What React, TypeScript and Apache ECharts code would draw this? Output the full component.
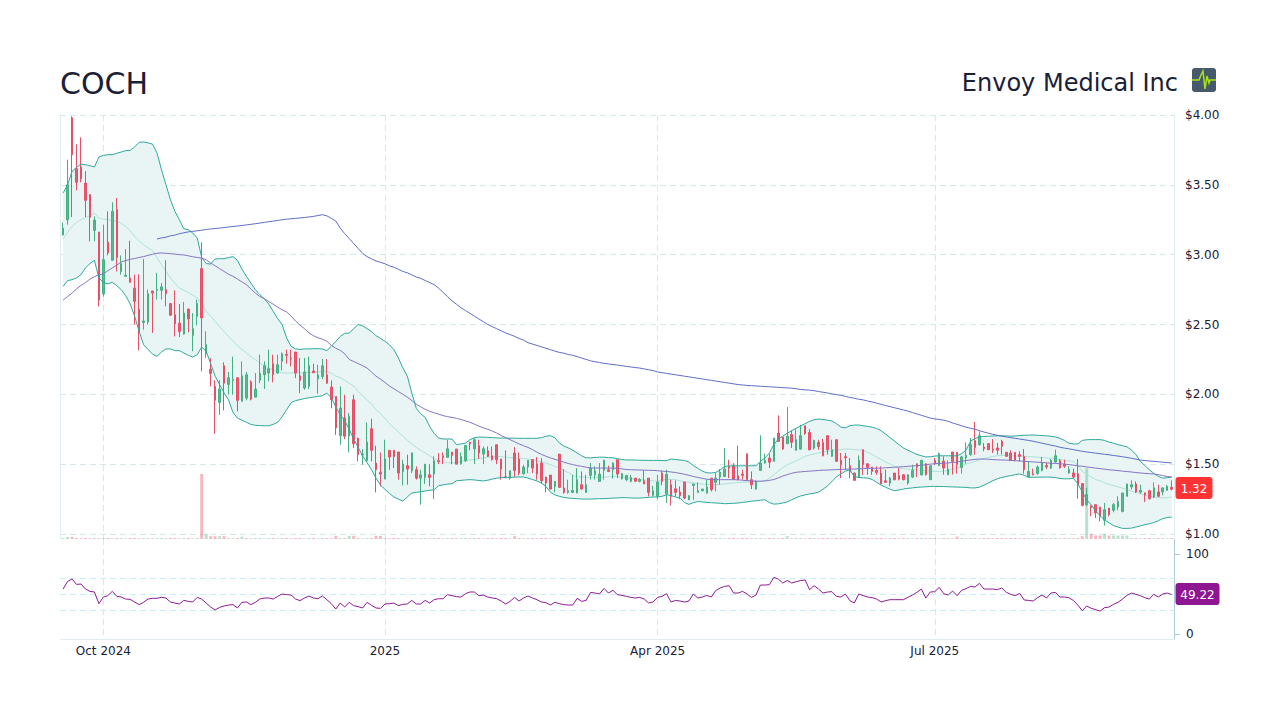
import React, { useEffect, useRef } from "react";
import * as echarts from "echarts";

const ticker = "COCH";
const company = "Envoy Medical Inc";
const lastPrice = "1.32";
const lastRsi = "49.22";
const tickLabels: Record<string, string> = { "9": "Oct 2024", "72": "2025", "133": "Apr 2025", "195": "Jul 2025" };

// open, close, low, high
const candles = [
[3.14,3.19,3.14,3.23],[3.25,3.5,3.215,3.68],[3.98,3.716,3.27,3.99],[3.616,3.518,3.46,3.79],[3.628,3.544,3.518,3.84],[3.513,3.389,3.27,3.597],[3.43,3.267,3.095,3.43],[3.174,3.248,3.095,3.274],[3.162,2.675,2.63,3.162],[2.718,2.964,2.7,3.215],
[3.09,3.012,2.995,3.31],[2.96,3.31,2.96,3.375],[3.322,2.98,2.88,3.406],[2.88,2.936,2.857,2.995],[2.845,2.853,2.845,3.04],[2.833,2.802,2.8,3.1],[2.76,2.666,2.5,2.857],[2.611,2.44,2.315,2.86],[2.515,2.525,2.463,2.97],[2.518,2.72,2.5,2.75],
[2.74,2.725,2.44,2.74],[2.745,2.752,2.678,2.87],[2.745,2.77,2.678,2.797],[2.75,2.72,2.63,2.96],[2.65,2.566,2.566,2.65],[2.57,2.506,2.415,2.745],[2.51,2.449,2.41,2.647],[2.432,2.582,2.427,2.661],[2.611,2.54,2.444,2.611],[2.423,2.47,2.308,2.582],
[2.559,2.65,2.494,2.678],[2.9,2.547,2.165,3.088],[2.29,2.356,2.26,2.451],[2.181,2.15,2.057,2.26],[2.057,1.957,1.718,2.1],[1.942,2.038,1.852,2.1],[2.205,2.08,1.885,2.229],[2.071,2.119,1.997,2.16],[2.1,2.108,1.997,2.27],[2.119,1.957,1.878,2.119],
[1.95,2.133,1.95,2.236],[1.973,2.14,1.957,2.16],[2.09,1.966,1.957,2.1],[1.98,2.038,1.98,2.152],[2.1,2.152,2.08,2.284],[2.14,2.205,2.038,2.236],[2.152,2.183,2.093,2.32],[2.219,2.14,2.086,2.284],[2.152,2.212,2.148,2.284],[2.236,2.291,2.171,2.3],
[2.286,2.279,2.219,2.32],[2.26,2.253,2.2,2.32],[2.303,2.152,2.116,2.303],[2.133,2.1,2.009,2.26],[2.045,2.16,2.033,2.26],[2.057,2.205,2.038,2.27],[2.167,2.155,2.152,2.219],[2.109,2.14,2.004,2.212],[2.128,2.205,2.109,2.253],[2.14,2.08,2.074,2.253],
[2.052,1.961,1.9,2.1],[1.985,1.759,1.71,1.985],[1.704,1.902,1.639,2.057],[1.83,1.7,1.68,1.997],[1.7,1.842,1.584,1.866],[1.961,1.646,1.615,1.997],[1.687,1.568,1.52,1.687],[1.565,1.572,1.496,1.608],[1.525,1.658,1.513,1.799],[1.754,1.599,1.52,1.825],
[1.508,1.46,1.298,1.632],[1.441,1.429,1.341,1.584],[1.393,1.537,1.393,1.675],[1.599,1.551,1.46,1.599],[1.599,1.555,1.472,1.599],[1.587,1.436,1.389,1.587],[1.448,1.5,1.348,1.532],[1.489,1.465,1.353,1.568],[1.453,1.58,1.436,1.584],[1.46,1.4,1.39,1.484],
[1.4,1.424,1.21,1.46],[1.405,1.5,1.358,1.5],[1.424,1.405,1.341,1.5],[1.429,1.525,1.25,1.556],[1.525,1.518,1.5,1.58],[1.56,1.549,1.5,1.584],[1.549,1.61,1.549,1.675],[1.587,1.563,1.5,1.587],[1.608,1.5,1.5,1.608],[1.503,1.555,1.496,1.584],
[1.525,1.634,1.515,1.634],[1.658,1.646,1.599,1.658],[1.61,1.675,1.5,1.687],[1.632,1.58,1.537,1.675],[1.572,1.61,1.5,1.627],[1.596,1.555,1.551,1.627],[1.56,1.532,1.527,1.627],[1.639,1.532,1.5,1.639],[1.537,1.465,1.389,1.537],[1.41,1.403,1.4,1.599],
[1.4,1.453,1.389,1.453],[1.58,1.455,1.408,1.622],[1.537,1.436,1.42,1.584],[1.432,1.479,1.424,1.496],[1.479,1.527,1.436,1.527],[1.532,1.472,1.436,1.532],[1.503,1.429,1.389,1.551],[1.508,1.381,1.36,1.544],[1.408,1.365,1.298,1.408],[1.422,1.322,1.317,1.422],
[1.341,1.377,1.298,1.377],[1.572,1.334,1.329,1.572],[1.329,1.298,1.288,1.465],[1.298,1.31,1.288,1.389],[1.298,1.312,1.293,1.424],[1.293,1.389,1.293,1.472],[1.353,1.322,1.317,1.448],[1.298,1.353,1.298,1.424],[1.42,1.472,1.389,1.508],[1.424,1.453,1.389,1.484],
[1.377,1.429,1.377,1.508],[1.455,1.527,1.389,1.532],[1.46,1.448,1.443,1.489],[1.46,1.508,1.396,1.513],[1.532,1.429,1.4,1.532],[1.396,1.432,1.389,1.436],[1.389,1.418,1.377,1.424],[1.377,1.405,1.37,1.424],[1.4,1.377,1.377,1.4],[1.377,1.391,1.37,1.4],
[1.381,1.358,1.358,1.455],[1.4,1.298,1.269,1.4],[1.277,1.31,1.269,1.346],[1.27,1.372,1.25,1.424],[1.436,1.377,1.348,1.453],[1.288,1.427,1.222,1.46],[1.353,1.269,1.205,1.389],[1.324,1.298,1.269,1.384],[1.3,1.274,1.25,1.341],[1.372,1.257,1.25,1.372],
[1.245,1.274,1.245,1.279],[1.348,1.358,1.245,1.358],[1.298,1.31,1.298,1.37],[1.31,1.322,1.305,1.322],[1.293,1.336,1.288,1.389],[1.4,1.317,1.305,1.4],[1.37,1.4,1.305,1.436],[1.408,1.444,1.353,1.465],[1.412,1.465,1.408,1.615],[1.484,1.472,1.4,1.532],
[1.489,1.393,1.389,1.508],[1.417,1.389,1.384,1.632],[1.429,1.42,1.389,1.46],[1.575,1.389,1.384,1.575],[1.389,1.353,1.322,1.448],[1.322,1.377,1.317,1.384],[1.455,1.508,1.455,1.706],[1.508,1.527,1.503,1.575],[1.544,1.513,1.472,1.572],[1.52,1.687,1.52,1.687],
[1.723,1.663,1.663,1.849],[1.694,1.608,1.603,1.694],[1.646,1.699,1.646,1.909],[1.711,1.656,1.615,1.742],[1.599,1.675,1.599,1.751],[1.608,1.704,1.603,1.782],[1.775,1.718,1.711,1.775],[1.727,1.603,1.599,1.751],[1.615,1.67,1.603,1.675],[1.656,1.627,1.603,1.675],
[1.656,1.56,1.556,1.68],[1.704,1.603,1.568,1.704],[1.556,1.603,1.551,1.675],[1.675,1.52,1.52,1.675],[1.527,1.496,1.4,1.58],[1.553,1.545,1.46,1.58],[1.489,1.444,1.4,1.544],[1.436,1.384,1.384,1.44],[1.408,1.527,1.4,1.563],[1.603,1.496,1.424,1.603],
[1.503,1.477,1.424,1.503],[1.479,1.448,1.424,1.479],[1.455,1.441,1.424,1.484],[1.436,1.36,1.353,1.484],[1.381,1.37,1.365,1.46],[1.365,1.4,1.341,1.408],[1.436,1.389,1.384,1.436],[1.417,1.393,1.384,1.472],[1.424,1.389,1.384,1.428],[1.365,1.424,1.353,1.428],
[1.408,1.455,1.4,1.496],[1.503,1.479,1.408,1.503],[1.424,1.527,1.417,1.532],[1.503,1.424,1.418,1.503],[1.389,1.489,1.389,1.489],[1.527,1.503,1.495,1.544],[1.489,1.575,1.489,1.584],[1.522,1.472,1.424,1.556],[1.424,1.465,1.424,1.527],[1.587,1.52,1.425,1.587],
[1.585,1.497,1.432,1.585],[1.477,1.552,1.432,1.56],[1.545,1.563,1.503,1.656],[1.568,1.64,1.561,1.687],[1.668,1.62,1.568,1.802],[1.64,1.704,1.633,1.735],[1.623,1.611,1.592,1.652],[1.647,1.604,1.599,1.652],[1.609,1.6,1.58,1.68],[1.616,1.6,1.568,1.652],
[1.664,1.628,1.568,1.675],[1.585,1.556,1.551,1.585],[1.58,1.528,1.525,1.6],[1.585,1.528,1.52,1.585],[1.568,1.556,1.52,1.592],[1.556,1.461,1.432,1.609],[1.408,1.449,1.408,1.52],[1.432,1.425,1.42,1.468],[1.432,1.48,1.425,1.49],[1.454,1.513,1.449,1.552],
[1.49,1.48,1.466,1.513],[1.473,1.528,1.466,1.537],[1.516,1.561,1.509,1.604],[1.525,1.473,1.468,1.537],[1.5,1.485,1.473,1.532],[1.437,1.461,1.432,1.485],[1.437,1.408,1.401,1.468],[1.432,1.349,1.253,1.537],[1.361,1.205,1.198,1.361],[1.21,1.282,1.198,1.33],
[1.198,1.186,1.127,1.21],[1.21,1.151,1.115,1.21],[1.193,1.127,1.091,1.193],[1.098,1.174,1.06,1.222],[1.186,1.139,1.127,1.186],[1.17,1.21,1.155,1.222],[1.193,1.234,1.17,1.27],[1.162,1.294,1.155,1.294],[1.27,1.358,1.27,1.36],[1.337,1.353,1.318,1.384],
[1.358,1.301,1.294,1.377],[1.299,1.313,1.289,1.353],[1.294,1.279,1.229,1.298],[1.311,1.253,1.246,1.311],[1.265,1.33,1.258,1.37],[1.301,1.27,1.263,1.353],[1.301,1.33,1.277,1.334],[1.313,1.341,1.311,1.351],[1.334,1.32,1.313,1.384],
];

const bollUpper = [
3.442,3.5,3.597,3.625,3.649,3.644,3.637,3.628,3.699,3.711,3.716,3.716,3.726,3.735,3.745,3.747,3.771,3.804,3.807,3.8,3.792,3.728,3.609,3.501,3.394,3.31,3.25,3.186,3.179,3.155,
3.119,2.981,2.936,2.933,2.969,2.971,2.971,2.979,2.986,2.959,2.897,2.845,2.797,2.749,2.714,2.685,2.647,2.594,2.542,2.499,2.403,2.344,2.325,2.322,2.325,2.325,2.327,2.327,2.325,2.313,
2.344,2.379,2.415,2.437,2.439,2.47,2.5,2.49,2.47,2.45,2.42,2.4,2.38,2.355,2.32,2.26,2.19,2.13,2.01,1.9,1.86,1.835,1.77,1.72,1.687,1.68,1.68,1.68,1.64,1.645,
1.651,1.675,1.69,1.694,1.693,1.692,1.69,1.688,1.687,1.687,1.686,1.686,1.685,1.685,1.685,1.685,1.685,1.69,1.7,1.704,1.69,1.652,1.63,1.617,1.6,1.58,1.56,1.545,1.545,1.548,
1.55,1.55,1.547,1.545,1.54,1.533,1.53,1.53,1.53,1.528,1.528,1.527,1.527,1.527,1.526,1.525,1.537,1.533,1.53,1.527,1.515,1.49,1.47,1.45,1.438,1.437,1.441,1.46,1.484,1.488,
1.488,1.488,1.488,1.488,1.488,1.489,1.52,1.545,1.58,1.64,1.68,1.7,1.722,1.74,1.757,1.775,1.79,1.806,1.818,1.823,1.82,1.815,1.81,1.79,1.765,1.76,1.775,1.78,1.78,1.775,
1.77,1.765,1.755,1.74,1.715,1.69,1.665,1.64,1.615,1.6,1.585,1.57,1.56,1.552,1.553,1.558,1.56,1.56,1.56,1.56,1.56,1.575,1.6,1.665,1.683,1.695,1.698,1.7,1.702,1.703,
1.703,1.702,1.7,1.702,1.705,1.707,1.708,1.709,1.707,1.705,1.703,1.7,1.695,1.685,1.67,1.65,1.645,1.645,1.67,1.675,1.676,1.676,1.676,1.67,1.658,1.65,1.64,1.632,1.625,1.6,
1.57,1.52,1.49,1.46,1.435,1.413,1.4,1.403,1.408,
];

const bollLower = [
2.773,2.814,2.821,2.833,2.857,2.905,2.936,2.959,2.833,2.802,2.79,2.802,2.778,2.749,2.706,2.647,2.558,2.451,2.356,2.32,2.289,2.272,2.303,2.325,2.325,2.313,2.313,2.296,2.279,2.267,
2.284,2.339,2.308,2.22,2.13,2.07,2.01,1.96,1.87,1.83,1.815,1.8,1.785,1.778,1.776,1.775,1.775,1.785,1.8,1.84,1.89,1.94,1.955,1.962,1.97,1.975,1.98,1.985,1.99,2.009,
1.975,1.91,1.854,1.81,1.75,1.68,1.62,1.56,1.51,1.46,1.4,1.35,1.32,1.29,1.265,1.25,1.236,1.265,1.293,1.298,1.303,1.308,1.313,1.317,1.345,1.352,1.357,1.36,1.381,1.384,
1.387,1.389,1.387,1.383,1.38,1.385,1.393,1.4,1.403,1.405,1.405,1.407,1.408,1.408,1.4,1.39,1.38,1.365,1.34,1.3,1.28,1.27,1.262,1.257,1.255,1.253,1.25,1.25,1.25,1.252,
1.253,1.253,1.255,1.257,1.258,1.26,1.26,1.258,1.257,1.257,1.26,1.262,1.265,1.265,1.27,1.281,1.275,1.265,1.257,1.225,1.212,1.225,1.232,1.23,1.226,1.224,1.222,1.22,1.217,1.218,
1.22,1.222,1.226,1.23,1.235,1.238,1.242,1.245,1.225,1.214,1.216,1.222,1.23,1.245,1.26,1.272,1.28,1.287,1.292,1.3,1.32,1.345,1.375,1.41,1.43,1.45,1.46,1.41,1.405,1.402,
1.4,1.39,1.37,1.35,1.335,1.32,1.31,1.315,1.322,1.327,1.33,1.334,1.336,1.338,1.34,1.341,1.34,1.34,1.338,1.337,1.336,1.335,1.334,1.33,1.33,1.335,1.35,1.365,1.382,1.395,
1.405,1.412,1.418,1.425,1.43,1.42,1.406,1.406,1.407,1.407,1.408,1.407,1.403,1.398,1.395,1.395,1.398,1.36,1.3,1.245,1.21,1.165,1.13,1.1,1.08,1.06,1.05,1.04,1.04,1.042,
1.05,1.058,1.067,1.073,1.082,1.095,1.11,1.118,1.122,
];

const bollMiddle = [
3.112,3.16,3.203,3.23,3.25,3.265,3.279,3.298,3.262,3.255,3.25,3.245,3.239,3.225,3.203,3.17,3.131,3.1,3.071,3.05,3.03,2.98,2.928,2.88,2.833,2.795,2.761,2.745,2.73,2.71,
2.69,2.645,2.594,2.56,2.523,2.485,2.451,2.415,2.38,2.35,2.32,2.296,2.27,2.248,2.225,2.205,2.189,2.175,2.163,2.153,2.153,2.153,2.153,2.153,2.153,2.155,2.157,2.16,2.163,2.165,
2.15,2.13,2.12,2.1,2.08,2.06,2.02,1.99,1.96,1.93,1.89,1.86,1.83,1.79,1.76,1.73,1.7,1.67,1.645,1.62,1.6,1.58,1.56,1.54,1.525,1.517,1.512,1.508,1.512,1.518,
1.524,1.53,1.535,1.54,1.545,1.55,1.553,1.555,1.553,1.55,1.547,1.545,1.543,1.54,1.535,1.532,1.526,1.517,1.508,1.497,1.485,1.472,1.455,1.44,1.42,1.41,1.408,1.406,1.405,1.405,
1.405,1.407,1.41,1.412,1.41,1.405,1.4,1.397,1.393,1.39,1.387,1.384,1.38,1.378,1.39,1.39,1.39,1.39,1.38,1.375,1.37,1.365,1.36,1.358,1.355,1.353,1.353,1.355,1.358,1.362,
1.365,1.368,1.37,1.373,1.375,1.377,1.378,1.38,1.4,1.425,1.45,1.475,1.495,1.51,1.525,1.54,1.556,1.565,1.573,1.58,1.588,1.592,1.597,1.602,1.605,1.608,1.607,1.605,1.602,1.599,
1.585,1.57,1.55,1.535,1.515,1.5,1.485,1.473,1.468,1.465,1.462,1.46,1.457,1.453,1.45,1.448,1.448,1.45,1.455,1.462,1.47,1.485,1.5,1.51,1.52,1.53,1.54,1.548,1.555,1.56,
1.563,1.562,1.56,1.558,1.557,1.556,1.554,1.552,1.55,1.548,1.545,1.543,1.538,1.533,1.528,1.523,1.52,1.49,1.45,1.43,1.408,1.39,1.38,1.367,1.355,1.347,1.338,1.328,1.318,1.307,
1.297,1.287,1.277,1.27,1.265,1.26,1.258,1.26,1.265,
];

const sma50 = [
2.675,2.7,2.725,2.755,2.78,2.8,2.825,2.842,2.855,2.863,2.885,2.905,2.925,2.948,2.958,2.967,2.972,2.98,2.986,2.995,3.003,3.01,3.012,3.01,3.007,3.004,3,2.998,2.992,2.985,
2.98,2.975,2.964,2.94,2.92,2.9,2.88,2.86,2.845,2.825,2.805,2.785,2.755,2.725,2.7,2.685,2.665,2.645,2.625,2.605,2.59,2.56,2.525,2.495,2.47,2.44,2.42,2.405,2.395,2.38,
2.35,2.33,2.315,2.29,2.25,2.235,2.22,2.205,2.188,2.16,2.13,2.109,2.085,2.06,2.04,2.02,2,1.98,1.955,1.93,1.91,1.893,1.878,1.868,1.858,1.848,1.84,1.835,1.828,1.82,
1.81,1.8,1.787,1.772,1.76,1.75,1.737,1.723,1.705,1.69,1.675,1.66,1.645,1.632,1.62,1.605,1.585,1.57,1.557,1.545,1.535,1.525,1.515,1.505,1.497,1.49,1.484,1.478,1.473,1.472,
1.472,1.472,1.472,1.472,1.47,1.466,1.462,1.46,1.459,1.458,1.457,1.456,1.455,1.453,1.45,1.448,1.444,1.44,1.434,1.428,1.42,1.412,1.405,1.398,1.392,1.389,1.389,1.389,1.389,1.389,
1.389,1.388,1.385,1.382,1.38,1.378,1.378,1.38,1.384,1.39,1.402,1.415,1.425,1.435,1.442,1.445,1.448,1.45,1.452,1.455,1.457,1.458,1.46,1.461,1.463,1.464,1.465,1.465,1.467,1.468,
1.47,1.47,1.471,1.472,1.474,1.476,1.478,1.48,1.482,1.485,1.487,1.489,1.492,1.496,1.5,1.503,1.505,1.507,1.509,1.512,1.516,1.52,1.526,1.53,1.534,1.537,1.537,1.535,1.533,1.531,
1.53,1.529,1.527,1.525,1.523,1.52,1.518,1.516,1.514,1.512,1.509,1.507,1.505,1.503,1.5,1.497,1.493,1.488,1.485,1.48,1.476,1.472,1.468,1.464,1.46,1.457,1.454,1.45,1.447,1.444,
1.44,1.437,1.434,1.432,1.43,1.425,1.418,1.412,1.408,
];

const sma200 = [
null,null,null,null,null,null,null,null,null,null,null,null,null,null,null,null,null,null,null,null,null,
3.112,3.12,3.125,3.135,3.14,3.15,3.157,3.163,3.167,3.171,3.175,3.18,3.184,3.187,3.19,3.194,3.198,3.202,3.205,3.209,3.213,3.217,3.222,3.226,3.231,3.236,3.24,3.245,3.25,3.254,3.257,3.26,3.263,3.266,3.27,3.274,3.28,3.286,3.278,3.26,3.24,3.19,3.15,3.115,
3.08,3.045,3.01,2.985,2.97,2.955,2.945,2.935,2.92,2.91,2.895,2.88,2.87,2.855,2.84,2.83,2.815,2.8,2.785,2.76,2.73,2.7,2.67,2.645,2.62,2.6,2.58,2.56,2.54,2.52,2.5,2.485,2.47,2.455,2.44,
2.428,2.415,2.4,2.388,2.37,2.36,2.35,2.34,2.33,2.32,2.31,2.3,2.295,2.285,2.28,2.27,2.26,2.25,2.24,2.233,2.228,2.222,2.218,2.213,2.21,2.205,2.2,2.196,2.192,2.188,2.182,2.176,2.17,2.16,2.155,2.15,2.145,2.14,2.135,2.13,
2.125,2.12,2.115,2.11,2.105,2.1,2.095,2.09,2.085,2.08,2.075,2.07,2.067,2.064,2.062,2.06,2.058,2.056,2.054,2.052,2.05,2.048,2.046,2.044,2.04,2.035,2.032,2.03,2.026,2.02,2.015,2.01,2.003,1.998,1.993,1.985,1.978,1.972,1.965,1.96,
1.952,1.945,1.937,1.928,1.92,1.912,1.904,1.896,1.888,1.88,1.87,1.86,1.85,1.84,1.83,1.824,1.82,1.815,1.807,1.795,1.785,1.775,1.765,1.757,1.75,1.74,1.73,1.722,1.714,1.707,1.7,1.695,1.69,1.685,1.68,1.675,1.67,1.664,1.657,1.65,
1.643,1.636,1.63,1.621,1.615,1.61,1.604,1.598,1.592,1.587,1.583,1.579,1.575,1.571,1.567,1.562,1.558,1.553,1.548,1.542,1.536,1.529,1.526,1.523,1.52,1.517,1.514,1.511,1.509,
];

const rsi = [
56.2,65.8,68.7,62,62.5,56.2,53.3,52.5,37.9,46.2,47.9,53.3,47.1,46.2,43.7,43.3,40,36.7,39.6,43.7,44.6,44.6,45.8,45,40,38.7,37.5,42,40.8,40,
45.8,43.7,38.7,33.7,30,33.3,35,36.2,36.7,32.5,39.6,40,36.7,39.6,43.7,45,45,43.7,47.1,50,49.2,48.7,43.7,41.7,45,47.5,45,44.1,47.5,42.9,
37.9,31.2,38.7,33.7,39.6,35.4,34.2,32.5,39.6,35.8,32.5,32.1,37.5,37.9,38.7,35.4,37.1,37.5,42,37.5,37.5,42,38.7,42.9,44.1,
44.1,49.2,47.9,46.7,46.2,50.4,52.5,52.5,47.9,48.7,46.2,45,44.1,41.2,37.5,40.8,45.8,41.2,45,47.5,45,42.9,40,39.2,36.2,39.6,37.9,36.7,36.2,36.2,
44.6,40.8,42,52,51.2,50,57,51.2,54.6,49.2,48.3,47.1,45.8,45,45.8,43.7,38.7,40,45.8,47.1,50.4,40,42,41.2,40,41.2,50,45,46.2,48.3,
46.2,54.2,57.5,59.6,60.4,51.2,51.2,53.3,50,45.8,48.7,61.2,61.2,61.7,70.8,68.7,63.7,67,63.7,65.4,66.7,67.5,55.4,
60.4,56.2,51.2,52.5,52.9,47.1,46.2,50,41.7,38.7,50,47.9,46.2,45.4,43.7,40,41.7,42.9,42.9,42.9,42.9,45.8,48.7,52,56.2,45,52.5,52.9,58.3,50.4,
48.7,53.7,47.9,54.6,56.7,59.6,58.7,63.3,56.2,56.2,56.2,55.4,57.5,52,49.6,47.9,50.8,42.5,42,41.2,45.4,48.7,45,51.2,52,46.2,46.2,45.4,42,36.2,
29.1,35,32.1,30.4,28.7,32.9,33.7,37.1,39.6,43.7,48.3,51.2,49.6,47.9,45.4,43.7,49.6,46.2,50,51.2,49.22,
];

const volumes = [
.14,.3,.3,.14,.1,.14,.1,.14,.1,.14,.14,.1,.14,.14,.1,.14,.14,.1,.14,.14,.1,.14,.14,.1,.14,.14,.1,.14,.14,.1,
.14,9.3,.75,.4,.4,.4,.4,.14,.1,.14,.35,.14,.1,.14,.14,.1,.14,.14,.1,.14,.14,.1,.14,.14,.1,.14,.14,.1,.14,.14,
.1,.45,.14,.14,.45,.45,.14,.1,.14,.14,.45,.45,.14,.1,.14,.14,.1,.14,.14,.1,.14,.14,.1,.14,.14,.1,.14,.14,.1,.14,
.14,.1,.14,.14,.1,.14,.14,.1,.14,.14,.1,.4,.14,.1,.14,.14,.1,.14,.14,.1,.14,.14,.1,.14,.14,.1,.14,.14,.1,.14,
.14,.1,.14,.14,.1,.14,.14,.1,.14,.14,.1,.14,.14,.1,.14,.14,.1,.14,.14,.1,.14,.14,.1,.14,.14,.1,.14,.14,.1,.14,
.14,.1,.14,.14,.1,.14,.14,.1,.14,.14,.1,.14,.4,.1,.14,.14,.1,.14,.14,.1,.14,.14,.1,.14,.14,.1,.14,.14,.1,.14,
.14,.1,.14,.14,.1,.14,.14,.1,.14,.14,.1,.14,.14,.1,.14,.14,.1,.14,.14,.1,.35,.14,.1,.14,.14,.1,.14,.14,.1,.14,
.14,.1,.14,.14,.1,.14,.14,.1,.14,.14,.1,.14,.14,.1,.14,.14,.1,.14,.4,10.1,.75,.5,.5,.75,.5,.5,.5,.5,.5,.14,
.14,.1,.14,.14,.1,.14,.14,.1,.14,
];

const C = {
  ink: "#1a2036",
  grid: "#d6e8ec",
  rsiGrid: "#c8eefc",
  frame: "#e0edf1",
  rsiAxis: "#aecbd6",
  band: "#e8f5f4",
  bandLine: "#2fa99a",
  mid: "#aee2d9",
  s50: "#8674c4",
  s200: "#5f6dc6",
  rsi: "#8e1a96",
  up: "#5ab892",
  upWick: "#45b082",
  down: "#e0606f",
  downWick: "#e84f66",
  volUp: "rgba(82,180,138,0.4)",
  volDown: "rgba(235,80,100,0.4)",
  red: "#ff3333",
  purple: "#8e1691",
};
const FONT = '"DejaVu Sans"';

export default function App() {
  const ref = useRef<HTMLDivElement>(null);
  useEffect(() => {
    if (!ref.current) return;
    const chart = echarts.init(ref.current, undefined, { renderer: "svg" });
    const categories = candles.map((_, i) => String(i));
    const isTick = (i: number) => String(i) in tickLabels;
    const lineS = (name: string, data: any[], color: string, extra: any = {}) => ({
      name, type: "line", data, xAxisIndex: 1, yAxisIndex: 1, symbol: "none", silent: true, z: 6,
      connectNulls: false, lineStyle: { color, width: 1 }, ...extra,
    });
    const hiddenCat = {
      type: "category", data: categories, boundaryGap: true,
      axisLine: { show: false }, axisTick: { show: false },
      splitLine: {
        show: true, interval: (i: number) => isTick(i), alignWithLabel: true,
        lineStyle: { color: C.grid, type: [6, 4], width: 1 },
      },
    };
    chart.setOption({
      animation: false,
      backgroundColor: "#ffffff",
      textStyle: { fontFamily: FONT },
      grid: [
        { left: 60, width: 1115, top: 115, height: 419 },
        { left: 60.9, width: 1113, top: 115, height: 424 },
        { left: 60, width: 1115, top: 554, height: 80 },
        { left: 60.9, width: 1113, top: 539, height: 100 },
      ],
      xAxis: [
        { gridIndex: 0, type: "value", min: 0, max: 1, show: false },
        { gridIndex: 1, ...hiddenCat, axisLabel: { show: false } },
        { gridIndex: 2, type: "value", min: 0, max: 1, show: false },
        {
          gridIndex: 3, ...hiddenCat,
          axisLabel: {
            show: true, interval: (i: number) => isTick(i), color: C.ink, fontSize: 12, fontFamily: FONT, margin: 6,
            formatter: (v: string) => tickLabels[v] ?? "",
          },
        },
      ],
      yAxis: [
        {
          gridIndex: 0, type: "value", min: 1, max: 4, interval: 0.5, position: "right",
          axisLine: { show: false, onZero: false }, axisTick: { show: false },
          axisLabel: { color: C.ink, fontSize: 12, fontFamily: FONT, margin: 10, formatter: (v: number) => "$" + v.toFixed(2) },
          splitLine: { show: true, lineStyle: { color: C.grid, type: [6, 4], width: 1 } },
        },
        { gridIndex: 1, type: "value", min: 0.9642, max: 4, show: false },
        { gridIndex: 1, type: "value", min: 0, max: 60.57, show: false },
        {
          gridIndex: 2, type: "value", min: 0, max: 100, interval: 100, position: "right",
          axisLine: { show: false, onZero: false },
          axisTick: { show: true, length: 5, lineStyle: { color: C.rsiAxis } },
          axisLabel: { color: C.ink, fontSize: 12, fontFamily: FONT, margin: 11 },
          splitLine: { show: false },
        },
        { gridIndex: 3, type: "value", min: -6.25, max: 118.75, show: false },
      ],
      series: [
        {
          name: "rsiLevels", type: "line", xAxisIndex: 2, yAxisIndex: 3, data: [[0, 50]], symbol: "none",
          silent: true, lineStyle: { width: 0 }, z: 1,
          markLine: {
            silent: true, symbol: "none", label: { show: false },
            lineStyle: { color: C.rsiGrid, type: [6, 4], width: 1 },
            data: [{ yAxis: 30 }, { yAxis: 50 }, { yAxis: 70 }],
          },
        },
        {
          name: "volume", type: "bar", xAxisIndex: 1, yAxisIndex: 2, barWidth: 3, silent: true, z: 2,
          data: volumes.map((v, i) => ({
            value: v,
            itemStyle: { color: candles[i][1] >= candles[i][0] ? C.volUp : C.volDown },
          })),
        },
        lineS("bandBase", bollLower, "transparent", { stack: "band", lineStyle: { width: 0 }, z: 1 }),
        lineS("bandFill", bollUpper.map((u, i) => +(u - bollLower[i]).toFixed(3)), "transparent", {
          stack: "band", lineStyle: { width: 0 }, areaStyle: { color: C.band, opacity: 1 }, z: 1,
        }),
        lineS("bollMiddle", bollMiddle, C.mid, { z: 3 }),
        {
          name: "price", type: "candlestick", xAxisIndex: 1, yAxisIndex: 1, barWidth: 2, silent: true, z: 5,
          data: candles,
          itemStyle: { color: C.up, color0: C.down, borderColor: C.upWick, borderColor0: C.downWick, borderWidth: 1 },
        },
        lineS("bollUpper", bollUpper, C.bandLine),
        lineS("bollLower", bollLower, C.bandLine),
        lineS("sma50", sma50, C.s50),
        lineS("sma200", sma200, C.s200),
        {
          name: "rsi", type: "line", xAxisIndex: 3, yAxisIndex: 4, data: rsi, symbol: "none", silent: true, z: 6,
          lineStyle: { color: C.rsi, width: 1 },
        },
      ],
      graphic: [
        { type: "line", shape: { x1: 60.5, y1: 115, x2: 60.5, y2: 539 }, style: { stroke: C.frame, lineWidth: 1 }, silent: true },
        { type: "line", shape: { x1: 1174.5, y1: 115, x2: 1174.5, y2: 539 }, style: { stroke: C.frame, lineWidth: 1 }, silent: true },
        { type: "line", shape: { x1: 1174.5, y1: 539, x2: 1174.5, y2: 639 }, style: { stroke: C.rsiAxis, lineWidth: 1 }, silent: true },
        { type: "line", shape: { x1: 60, y1: 639.5, x2: 1175, y2: 639.5 }, style: { stroke: C.frame, lineWidth: 1 }, silent: true },
        { type: "text", x: 60, y: 83, style: { text: ticker, fontSize: 30, fontFamily: FONT, fill: C.ink, align: "left", verticalAlign: "middle" } },
        { type: "text", x: 1178, y: 83, style: { text: company, fontSize: 24, fontFamily: FONT, fill: C.ink, align: "right", verticalAlign: "middle" } },
        { type: "rect", shape: { x: 1192, y: 68, width: 24, height: 24, r: 3 }, style: { fill: "#465a6b" }, silent: true },
        {
          type: "polyline", silent: true,
          shape: { points: [[1192, 80], [1199, 80], [1201, 75], [1203, 71], [1205, 89], [1207, 76], [1209, 83], [1210, 80], [1216, 80]] },
          style: { stroke: "#a8e60f", lineWidth: 1.5, fill: "none" },
        },
        { type: "rect", shape: { x: 1175.5, y: 477, width: 37, height: 22, r: 3 }, style: { fill: C.red }, silent: true },
        { type: "text", x: 1194, y: 488.5, style: { text: lastPrice, fontSize: 12, fontFamily: FONT, fill: "#ffffff", align: "center", verticalAlign: "middle" } },
        { type: "rect", shape: { x: 1175.5, y: 583, width: 44, height: 22, r: 3 }, style: { fill: C.purple }, silent: true },
        { type: "text", x: 1197.5, y: 594.5, style: { text: lastRsi, fontSize: 12, fontFamily: FONT, fill: "#ffffff", align: "center", verticalAlign: "middle" } },
      ],
    });
    return () => chart.dispose();
  }, []);
  return <div ref={ref} style={{ position: "absolute", left: 0, top: 0, width: 1280, height: 720 }} />;
}
